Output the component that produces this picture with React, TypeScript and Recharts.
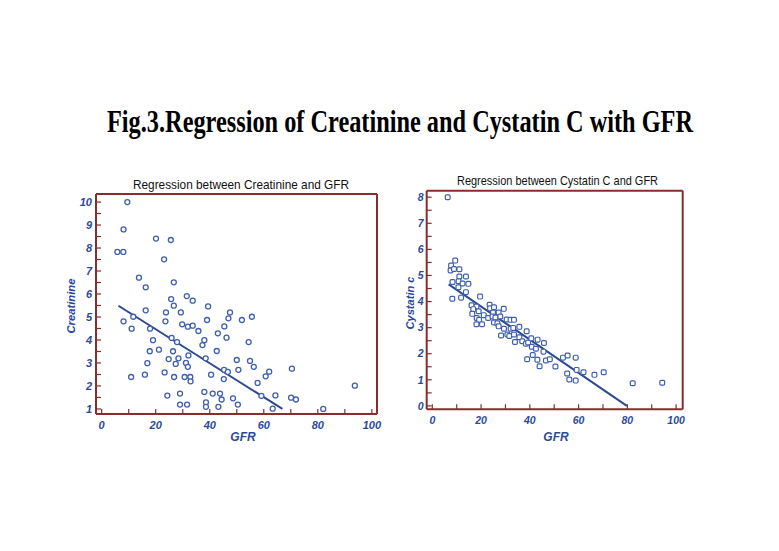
import React from 'react';
import { ScatterChart, Scatter, XAxis, YAxis, ReferenceLine } from 'recharts';

const creatGfr = [5.8, 8.0, 8.1, 9.5, 8.1, 11.1, 11.7, 10.9, 13.8, 16.3, 16.3, 17.9, 19.0, 17.8, 16.9, 16.0, 20.1, 21.2, 23.1, 25.6, 26.7, 23.8, 23.6, 25.7, 26.7, 25.9, 27.9, 26.4, 24.8, 23.3, 24.3, 27.4, 28.4, 26.8, 29.0, 29.0, 29.3, 29.8, 31.5, 31.9, 33.7, 33.7, 32.1, 31.2, 31.9, 30.7, 32.8, 32.9, 31.6, 35.8, 37.3, 38.0, 38.5, 39.4, 39.0, 40.5, 38.0, 38.6, 38.6, 41.1, 43.0, 42.6, 43.8, 44.4, 43.2, 45.4, 46.2, 46.9, 47.5, 45.3, 46.7, 45.2, 48.6, 50.4, 51.9, 50.0, 50.6, 54.4, 55.6, 54.9, 56.3, 57.7, 59.1, 60.7, 62.0, 64.3, 63.3, 70.4, 70.1, 71.9, 82.0, 93.7];
const creatVal = [7.83, 7.83, 8.81, 10.0, 4.81, 4.49, 5.01, 2.39, 6.71, 6.29, 5.29, 4.49, 3.99, 3.51, 2.99, 2.49, 8.41, 3.58, 7.51, 8.35, 6.51, 5.2, 4.81, 5.78, 5.49, 4.09, 3.91, 3.51, 3.17, 2.59, 1.58, 2.96, 3.2, 2.39, 1.67, 1.19, 5.2, 4.68, 5.91, 4.58, 5.71, 4.62, 3.33, 3.0, 2.83, 2.39, 2.39, 2.2, 1.19, 4.39, 3.78, 3.99, 3.2, 5.46, 4.87, 2.49, 1.74, 1.29, 1.09, 1.67, 4.29, 3.52, 1.67, 1.41, 1.09, 4.59, 4.1, 4.94, 5.2, 2.7, 2.61, 2.3, 1.46, 1.19, 4.87, 3.13, 2.7, 3.91, 5.01, 3.09, 2.83, 2.13, 1.57, 2.42, 2.62, 1.59, 1.01, 2.75, 1.49, 1.41, 1.0, 2.01];

const cysGfr = [6.3, 9.4, 7.7, 7.5, 8.9, 11.1, 11.1, 13.8, 8.3, 10.8, 12.4, 14.8, 10.7, 13.8, 8.2, 11.8, 19.6, 16.1, 18.1, 16.8, 19.0, 16.4, 18.2, 19.2, 18.1, 20.4, 21.1, 22.9, 23.5, 23.7, 25.3, 24.9, 24.7, 27.2, 25.9, 29.3, 27.9, 25.3, 26.7, 27.2, 28.2, 29.4, 30.5, 32.1, 33.5, 32.1, 33.2, 30.8, 31.6, 33.5, 33.9, 35.7, 35.7, 36.9, 38.7, 38.4, 39.3, 40.6, 40.8, 41.2, 38.9, 43.2, 42.5, 43.1, 44.0, 45.8, 45.6, 46.6, 48.2, 50.5, 53.6, 55.5, 58.8, 55.3, 56.2, 58.8, 59.2, 62.0, 66.5, 70.3, 82.2, 94.3];
const cysVal = [8.0, 5.57, 5.38, 5.19, 5.25, 5.24, 4.96, 4.96, 4.75, 4.78, 4.69, 4.68, 4.55, 4.36, 4.11, 4.15, 4.19, 3.86, 3.81, 3.71, 3.63, 3.53, 3.37, 3.3, 3.13, 3.13, 3.48, 3.37, 3.88, 3.74, 3.78, 3.58, 3.43, 3.58, 3.39, 3.72, 3.43, 3.2, 3.17, 3.05, 2.7, 2.96, 3.31, 3.3, 3.3, 2.96, 2.99, 2.74, 2.68, 2.74, 2.45, 3.03, 2.63, 2.48, 2.86, 2.38, 2.43, 2.59, 2.27, 1.95, 1.79, 2.54, 2.19, 1.77, 1.52, 2.41, 2.08, 1.74, 1.79, 1.51, 1.85, 1.93, 1.85, 1.24, 1.01, 0.97, 1.38, 1.29, 1.19, 1.29, 0.87, 0.89];

const gfrTicks = [0, 10, 20, 30, 40, 50, 60, 70, 80, 90, 100];
const creatTicks = [1, 1.5, 2, 2.5, 3, 3.5, 4, 4.5, 5, 5.5, 6, 6.5, 7, 7.5, 8, 8.5, 9, 9.5, 10];
const cysTicks = [0, 0.5, 1, 1.5, 2, 2.5, 3, 3.5, 4, 4.5, 5, 5.5, 6, 6.5, 7, 7.5, 8];

const creatFitX = [6.2, 66.9];
const creatFitY = [5.49, 1.0];
const cysFitX = [6.7, 79.8];
const cysFitY = [4.66, 0];

const BLUE = '#2b4a9c';
const MARK = '#3f5fae';
const MAROON = '#8a2c2c';
const LINE = '#2c4a8e';

const creatData = creatGfr.map((x, i) => ({ x, y: creatVal[i] }));
const cysData = cysGfr.map((x, i) => ({ x, y: cysVal[i] }));

const tickStyle = {
  fill: BLUE,
  fontSize: 11,
  fontWeight: 'bold',
  fontStyle: 'italic',
  fontFamily: 'Liberation Sans, Arial, sans-serif',
};
const tickStyleR = { ...tickStyle, fontSize: 10.5 };

const xFmt = (v: number) => (v % 20 === 0 ? String(v) : '');
const yFmt = (v: number) => (Number.isInteger(v) ? String(v) : '');

const Circle = (p: any) => (
  <circle cx={p.cx} cy={p.cy} r={2.5} fill="#ffffff" stroke={MARK} strokeWidth={1.3} />
);
const Square = (p: any) => (
  <rect x={p.cx - 2.4} y={p.cy - 2.4} width={4.8} height={4.8} rx={1.2} fill="#ffffff" stroke={MARK} strokeWidth={1.2} />
);

const abs: React.CSSProperties = { position: 'absolute', left: 0, top: 0 };

export default function App() {
  return (
    <div style={{ position: 'fixed', left: 0, top: 0, width: 779, height: 551, background: '#ffffff' }}>
      <svg width={779} height={551} style={abs}>
        <g transform="translate(107 132) scale(1 1.4)">
          <text x={0} y={0} fontSize={22} fontWeight="bold" fontFamily="Liberation Serif, Times New Roman, serif" textLength={586} lengthAdjust="spacingAndGlyphs" fill="#000">
            Fig.3.Regression of Creatinine and Cystatin C with GFR
          </text>
        </g>
        <text x={133} y={189} fontSize={13} fontFamily="Liberation Sans, Arial, sans-serif" textLength={216} lengthAdjust="spacingAndGlyphs" fill="#111">
          Regression between Creatinine and  GFR
        </text>
        <text x={457} y={185} fontSize={13} fontFamily="Liberation Sans, Arial, sans-serif" textLength={201} lengthAdjust="spacingAndGlyphs" fill="#111">
          Regression between  Cystatin C and  GFR
        </text>
        <text x={75} y={306} transform="rotate(-90 75 306)" textAnchor="middle" fontSize={11.5} fontWeight="bold" fontStyle="italic" fontFamily="Liberation Sans, Arial, sans-serif" fill={BLUE} textLength={55} lengthAdjust="spacingAndGlyphs">
          Creatinine
        </text>
        <text x={243} y={441} textAnchor="middle" fontSize={12} fontWeight="bold" fontStyle="italic" fontFamily="Liberation Sans, Arial, sans-serif" fill={BLUE}>
          GFR
        </text>
        <text x={414} y={303} transform="rotate(-90 414 303)" textAnchor="middle" fontSize={11.5} fontWeight="bold" fontStyle="italic" fontFamily="Liberation Sans, Arial, sans-serif" fill={BLUE} textLength={53} lengthAdjust="spacingAndGlyphs">
          Cystatin c
        </text>
        <text x={556} y={441} textAnchor="middle" fontSize={12} fontWeight="bold" fontStyle="italic" fontFamily="Liberation Sans, Arial, sans-serif" fill={BLUE}>
          GFR
        </text>
      </svg>

      <div style={abs}>
        <ScatterChart width={779} height={551} margin={{ left: 56, right: 402, top: 194, bottom: 107 }}>
          <XAxis dataKey="x" type="number" domain={[-2.1, 101.9]} ticks={gfrTicks} tickFormatter={xFmt} interval={0}
            height={30} tickSize={-5} tickMargin={12} tick={tickStyle}
            axisLine={{ stroke: MAROON, strokeWidth: 2 }} tickLine={{ stroke: MAROON, strokeWidth: 1.2 }} allowDataOverflow />
          <YAxis dataKey="y" type="number" domain={[0.78, 10.35]} ticks={creatTicks} tickFormatter={yFmt} interval={0}
            width={40} tickSize={-5} tickMargin={9} tick={tickStyle}
            axisLine={{ stroke: MAROON, strokeWidth: 2 }} tickLine={{ stroke: MAROON, strokeWidth: 1.2 }} allowDataOverflow />
          <ReferenceLine y={10.35} stroke={MAROON} strokeWidth={2} />
          <ReferenceLine x={101.9} stroke={MAROON} strokeWidth={2} />
          <Scatter data={creatData} shape={Circle} isAnimationActive={false} />
          <ReferenceLine segment={[{ x: creatFitX[0], y: creatFitY[0] }, { x: creatFitX[1], y: creatFitY[1] }]} stroke={LINE} strokeWidth={2} />
        </ScatterChart>
      </div>

      <div style={abs}>
        <ScatterChart width={779} height={551} margin={{ left: 386.7, right: 96.3, top: 190.7, bottom: 111.7 }}>
          <XAxis dataKey="x" type="number" domain={[-2.3, 102.7]} ticks={gfrTicks} tickFormatter={xFmt} interval={0}
            height={30} tickSize={-5} tickMargin={12} tick={tickStyleR}
            axisLine={{ stroke: MAROON, strokeWidth: 2 }} tickLine={{ stroke: MAROON, strokeWidth: 1.2 }} allowDataOverflow />
          <YAxis dataKey="y" type="number" domain={[-0.13, 8.25]} ticks={cysTicks} tickFormatter={yFmt} interval={0}
            width={40} tickSize={-5} tickMargin={8} tick={tickStyleR}
            axisLine={{ stroke: MAROON, strokeWidth: 2 }} tickLine={{ stroke: MAROON, strokeWidth: 1.2 }} allowDataOverflow />
          <ReferenceLine y={8.25} stroke={MAROON} strokeWidth={2} />
          <ReferenceLine x={102.7} stroke={MAROON} strokeWidth={2} />
          <Scatter data={cysData} shape={Square} isAnimationActive={false} />
          <ReferenceLine segment={[{ x: cysFitX[0], y: cysFitY[0] }, { x: cysFitX[1], y: cysFitY[1] }]} stroke={LINE} strokeWidth={2} />
        </ScatterChart>
      </div>
    </div>
  );
}
